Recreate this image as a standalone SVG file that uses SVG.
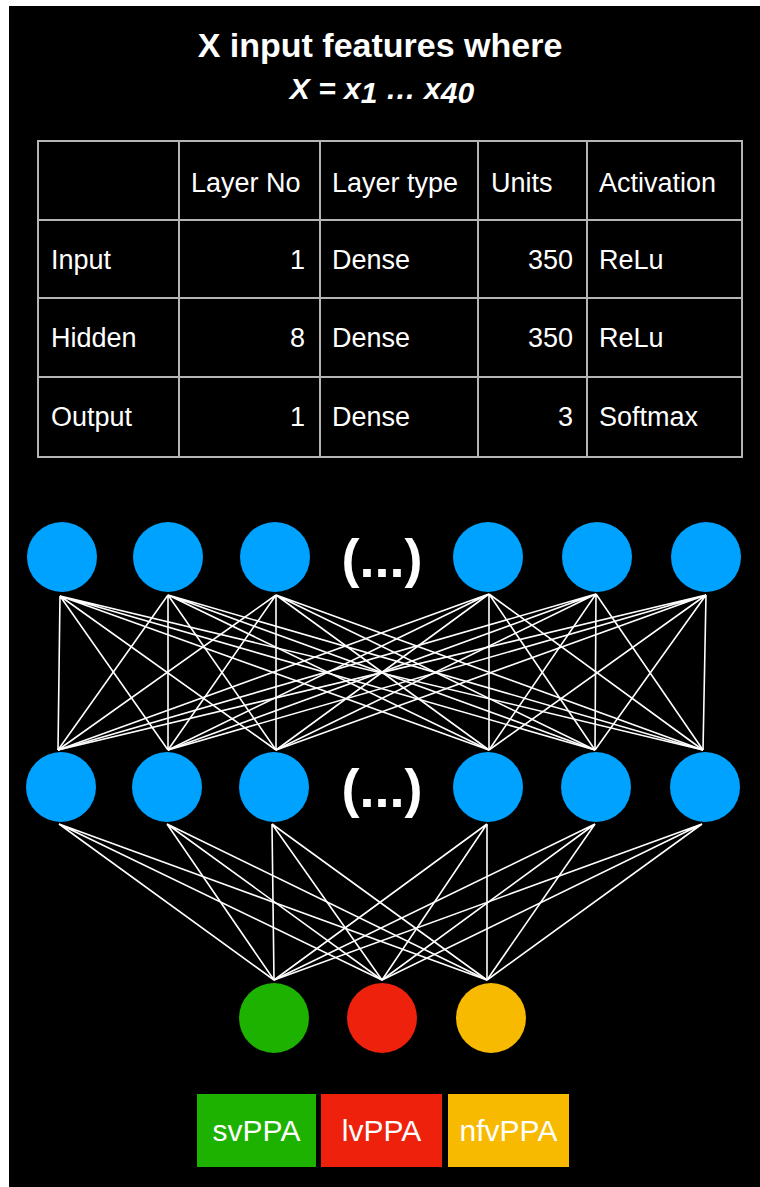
<svg xmlns="http://www.w3.org/2000/svg" width="760" height="1187" viewBox="0 0 760 1187">
<style>
.t{font-family:"Liberation Sans",Arial,sans-serif;fill:#fff}
.cell{font-size:27px}
.num{text-anchor:end}
.grid{stroke:#b4b4b4;stroke-width:2;fill:none}
.blue{fill:#00A2FF}
.edge{stroke:#fff;stroke-width:1.6;fill:none}
.dots{font-size:54px;font-weight:bold;text-anchor:middle}
.lbl{font-size:30px;text-anchor:middle}
</style>
<rect x="0" y="0" width="760" height="1187" fill="#fff"/>
<rect x="9" y="6" width="751" height="1181" fill="#000"/>

<g id="title">
<text class="t" x="380" y="57" font-size="34" font-weight="bold" text-anchor="middle">X input features where</text>
<text class="t" x="382" y="99" font-size="30" font-weight="bold" font-style="italic" text-anchor="middle">X = x<tspan dy="4">1</tspan><tspan dy="-4"> … x</tspan><tspan dy="4">40</tspan></text>
</g>

<g id="table">
<rect class="grid" x="38" y="141" width="704" height="316"/>
<line class="grid" x1="38" y1="220" x2="742" y2="220"/>
<line class="grid" x1="38" y1="298" x2="742" y2="298"/>
<line class="grid" x1="38" y1="377" x2="742" y2="377"/>
<line class="grid" x1="179" y1="141" x2="179" y2="457"/>
<line class="grid" x1="320" y1="141" x2="320" y2="457"/>
<line class="grid" x1="478" y1="141" x2="478" y2="457"/>
<line class="grid" x1="587" y1="141" x2="587" y2="457"/>
<text class="t cell" x="191" y="192">Layer No</text>
<text class="t cell" x="332" y="192">Layer type</text>
<text class="t cell" x="491" y="192">Units</text>
<text class="t cell" x="599" y="192">Activation</text>
<text class="t cell" x="51" y="269">Input</text>
<text class="t cell num" x="305" y="269">1</text>
<text class="t cell" x="332" y="269">Dense</text>
<text class="t cell num" x="573" y="269">350</text>
<text class="t cell" x="599" y="269">ReLu</text>
<text class="t cell" x="51" y="347">Hidden</text>
<text class="t cell num" x="305" y="347">8</text>
<text class="t cell" x="332" y="347">Dense</text>
<text class="t cell num" x="573" y="347">350</text>
<text class="t cell" x="599" y="347">ReLu</text>
<text class="t cell" x="51" y="426">Output</text>
<text class="t cell num" x="305" y="426">1</text>
<text class="t cell" x="332" y="426">Dense</text>
<text class="t cell num" x="573" y="426">3</text>
<text class="t cell" x="599" y="426">Softmax</text>
</g>

<g id="connectors" class="edge">
<path d="M60 596L58 750M60 596L168 750M60 596L276 750M60 596L489 750M60 596L595 750M60 596L703 750"/>
<path d="M168 595L58 750M168 595L168 750M168 595L276 750M168 595L489 750M168 595L595 750M168 595L703 750"/>
<path d="M276 595L58 750M276 595L168 750M276 595L276 750M276 595L489 750M276 595L595 750M276 595L703 750"/>
<path d="M489 594L58 750M489 594L168 750M489 594L276 750M489 594L489 750M489 594L595 750M489 594L703 750"/>
<path d="M596 594L58 750M596 594L168 750M596 594L276 750M596 594L489 750M596 594L595 750M596 594L703 750"/>
<path d="M706 595L58 750M706 595L168 750M706 595L276 750M706 595L489 750M706 595L595 750M706 595L703 750"/>
<path d="M59 824L274 980M59 824L382 980M59 824L487 980"/>
<path d="M167 824L274 980M167 824L382 980M167 824L487 980"/>
<path d="M272 824L274 980M272 824L382 980M272 824L487 980"/>
<path d="M487 824L274 980M487 824L382 980M487 824L487 980"/>
<path d="M595 824L274 980M595 824L382 980M595 824L487 980"/>
<path d="M702 824L274 980M702 824L382 980M702 824L487 980"/>
</g>

<g id="in1"><circle class="blue" cx="62" cy="557" r="35"/></g>
<g id="in2"><circle class="blue" cx="168" cy="557" r="35"/></g>
<g id="in3"><circle class="blue" cx="275" cy="557" r="35"/></g>
<g id="in-ellipsis"><text class="t dots" x="382" y="577">(...)</text></g>
<g id="in4"><circle class="blue" cx="488" cy="557" r="35"/></g>
<g id="in5"><circle class="blue" cx="597" cy="557" r="35"/></g>
<g id="in6"><circle class="blue" cx="706" cy="557" r="35"/></g>

<g id="h1"><circle class="blue" cx="61" cy="787" r="35"/></g>
<g id="h2"><circle class="blue" cx="167" cy="787" r="35"/></g>
<g id="h3"><circle class="blue" cx="274" cy="787" r="35"/></g>
<g id="h-ellipsis"><text class="t dots" x="382" y="807">(...)</text></g>
<g id="h4"><circle class="blue" cx="488" cy="787" r="35"/></g>
<g id="h5"><circle class="blue" cx="596" cy="787" r="35"/></g>
<g id="h6"><circle class="blue" cx="705" cy="787" r="35"/></g>

<g id="out1"><circle cx="274" cy="1018" r="35" fill="#1DB100"/></g>
<g id="out2"><circle cx="382" cy="1018" r="35" fill="#EE220C"/></g>
<g id="out3"><circle cx="491" cy="1018" r="35" fill="#F8BA00"/></g>

<g id="lbl-sv"><rect x="197" y="1094" width="119" height="73" fill="#1DB100"/><text class="t lbl" x="256.5" y="1141">svPPA</text></g>
<g id="lbl-lv"><rect x="321" y="1094" width="121" height="73" fill="#EE220C"/><text class="t lbl" x="381.5" y="1141">lvPPA</text></g>
<g id="lbl-nfv"><rect x="448" y="1094" width="121" height="73" fill="#F8BA00"/><text class="t lbl" x="508.5" y="1141">nfvPPA</text></g>
</svg>
